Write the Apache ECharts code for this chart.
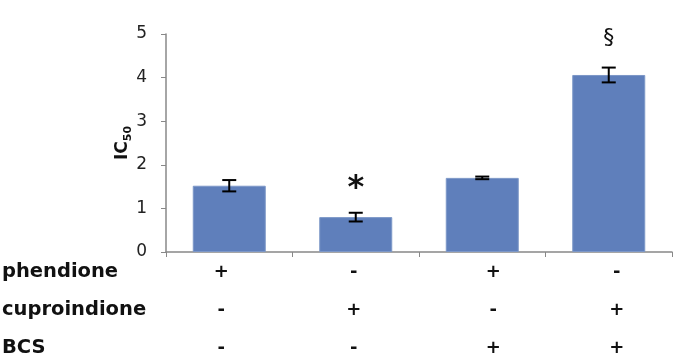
<!DOCTYPE html>
<html>
<head>
<meta charset="utf-8">
<script src="https://cdn.jsdelivr.net/npm/echarts@6/dist/echarts.min.js"></script>
<style>
html,body{margin:0;padding:0;background:#fff;}
#main{width:675px;height:357px;}
</style>
</head>
<body>
<div id="main"></div>
<script>
// IC50 per condition
var categories = ['c1', 'c2', 'c3', 'c4'];
var ic50 = [1.52, 0.80, 1.70, 4.06];
var ic50Err = [0.13, 0.10, 0.03, 0.17];
var signif = ['', '*', '', '\u00A7'];
var rowNames = ['phendione', 'cuproindione', 'BCS'];
var phendione = ['+', '-', '+', '-'];
var cuproindione = ['-', '+', '-', '+'];
var bcs = ['-', '-', '+', '+'];
var yTicks = [0, 1, 2, 3, 4, 5];

var chart = echarts.init(document.getElementById('main'));
var FONT = 'DejaVu Sans';
var rowShift = [-8, -2, 11, 8]; // small horizontal nudge of the +/- marks

var shiftRich = {};
for (var i = 0; i < rowShift.length; i++) {
    var s = rowShift[i];
    shiftRich['s' + i] = {
        fontFamily: FONT, fontWeight: 'bold', fontSize: 18, color: '#111',
        padding: s < 0 ? [0, -2 * s, 0, 0] : [0, 0, 0, 2 * s]
    };
}

function rowAxis(vals, margin) {
    return {
        type: 'category',
        gridIndex: 0,
        position: 'bottom',
        data: vals,
        axisLine: {show: false},
        axisTick: {show: false},
        axisLabel: {
            margin: margin,
            verticalAlign: 'middle',
            formatter: function (v, idx) { return '{s' + idx + '|' + v + '}'; },
            rich: shiftRich
        }
    };
}

var rowY = [272, 310, 348];
var graphics = [];
for (var r = 0; r < rowNames.length; r++) {
    graphics.push({
        type: 'text', left: 2, top: rowY[r] - 10,
        style: {text: rowNames[r], fontFamily: FONT, fontWeight: 'bold', fontSize: 19.5, fill: '#111'}
    });
}

var option = {
    animation: false,
    grid: {left: 166, right: 3, top: 34, bottom: 104},
    graphic: graphics,
    xAxis: [
        {
            type: 'category',
            data: categories,
            axisLine: {lineStyle: {color: '#888', width: 1.5}},
            axisTick: {show: true, length: 5, lineStyle: {color: '#888'}},
            axisLabel: {show: false}
        },
        rowAxis(phendione, 20),
        rowAxis(cuproindione, 58),
        rowAxis(bcs, 96)
    ],
    yAxis: {
        type: 'value',
        min: yTicks[0],
        max: yTicks[yTicks.length - 1],
        interval: 1,
        name: '{m|IC}{s|50}',
        nameLocation: 'middle',
        nameRotate: 90,
        nameGap: 32,
        nameMoveOverlap: false,
        nameTextStyle: {
            rich: {
                m: {fontFamily: FONT, fontWeight: 'bold', fontSize: 17, color: '#111', lineHeight: 22},
                s: {fontFamily: FONT, fontWeight: 'bold', fontSize: 11, color: '#111', lineHeight: 22, verticalAlign: 'bottom', padding: [6, 0, 0, 0]}
            }
        },
        splitLine: {show: false},
        axisLine: {show: true, lineStyle: {color: '#888', width: 1.5}},
        axisTick: {show: true, length: 5, lineStyle: {color: '#888'}},
        axisLabel: {margin: 19, fontFamily: FONT, fontSize: 17, color: '#222'}
    },
    series: [
        {
            type: 'bar',
            data: ic50,
            barWidth: 73,
            itemStyle: {color: '#5f7fbb', borderColor: '#7d98c8', borderWidth: 1}
        },
        {
            type: 'custom',
            data: ic50.map(function (v, i) { return [i, v, ic50Err[i]]; }),
            z: 10,
            renderItem: function (params, api) {
                var x = api.value(0), v = api.value(1), e = api.value(2);
                var top = api.coord([x, v + e]);
                var bot = api.coord([x, v - e]);
                var w = 7;
                var st = {stroke: '#000', lineWidth: 2};
                var star = signif[params.dataIndex] === '*';
                return {
                    type: 'group',
                    children: [
                        {type: 'line', shape: {x1: top[0], y1: top[1], x2: bot[0], y2: bot[1]}, style: st},
                        {type: 'line', shape: {x1: top[0] - w, y1: top[1], x2: top[0] + w, y2: top[1]}, style: st},
                        {type: 'line', shape: {x1: bot[0] - w, y1: bot[1], x2: bot[0] + w, y2: bot[1]}, style: st},
                        {type: 'text', x: top[0], y: top[1] - (star ? 24 : 29),
                         style: {text: signif[params.dataIndex], fontFamily: FONT,
                                 fontWeight: star ? 'bold' : 'normal', fontSize: star ? 32 : 22,
                                 fill: '#111', align: 'center', verticalAlign: 'middle'}}
                    ]
                };
            }
        }
    ]
};
chart.setOption(option);
</script>
</body>
</html>
